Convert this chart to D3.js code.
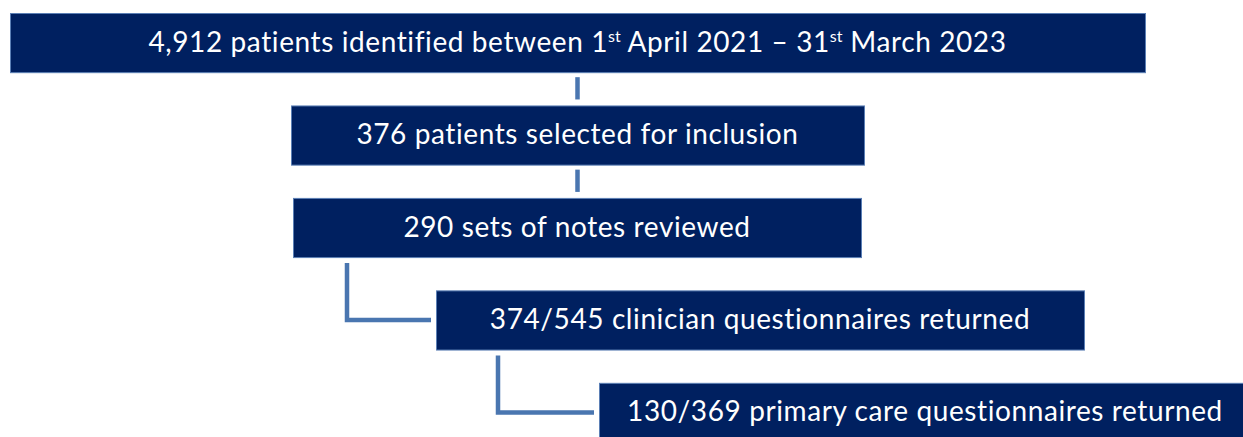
<!DOCTYPE html>
<html>
<head>
<meta charset="utf-8">
<script src="https://cdn.jsdelivr.net/npm/d3@7"></script>
<style>
  body { margin: 0; background: #fff; }
  svg { display: block; }
  .box { fill: #002060; stroke: #5b7fb5; stroke-width: 1; }
  .label { fill: #fff; font-family: Lato, "Open Sans", sans-serif; font-size: 28px; letter-spacing: 0.6px; }
  .link { fill: none; stroke: #4a76b0; stroke-width: 4.5; }
</style>
</head>
<body>
<div id="vis"></div>
<script>
// steps of the flow, top to bottom
const STEPS = [0, 1, 2, 3, 4];
const COUNTS = ["4,912", "376", "290", "374/545", "130/369"];
// label parts: [text, isSuperscript]
const LABELS = [
  [["4,912 patients identified between 1", false], ["st", true], [" April 2021 \u2013 31", false], ["st", true], [" March 2023", false]],
  [["376 patients selected for inclusion", false]],
  [["290 sets of notes reviewed", false]],
  [["374/545 clinician questionnaires returned", false]],
  [["130/369 primary care questionnaires returned", false]]
];
// link type from step i to i+1
const LINKS = ["straight", "straight", "elbow", "elbow"];

const FRAME_WIDTH = 1243;
const FRAME_HEIGHT = 437;

// box left/right edges (layout, not data)
const BOX_X = [[10, 1145], [291, 864], [293, 861], [436, 1084], [599, 1251]];

const FRAME = d3.select("#vis")
  .append("svg")
  .attr("width", FRAME_WIDTH)
  .attr("height", FRAME_HEIGHT);

// rows
const Y_SCALE = d3.scaleBand()
  .domain(STEPS)
  .range([13, 442])
  .paddingInner(0.36)
  .paddingOuter(0);

const X_SCALE = d3.scaleLinear().domain([0, FRAME_WIDTH]).range([0, FRAME_WIDTH]);

const H = Y_SCALE.bandwidth();

// connectors first so boxes sit on top
const GAP = 6;
FRAME.selectAll(".link")
  .data(LINKS)
  .enter()
  .append("path")
  .attr("class", "link")
  .attr("d", (d, i) => {
    let y0 = Y_SCALE(i) + H + GAP;
    let y1 = Y_SCALE(i + 1);
    if (d === "straight") {
      let cx = X_SCALE((BOX_X[i][0] + BOX_X[i][1]) / 2);
      return "M" + cx + "," + (Y_SCALE(i) + H + 5) + "V" + (y1 - 6);
    }
    // elbow: down from near left of box i, then right into box i+1
    let x0 = X_SCALE(BOX_X[i][0]) + (i === 2 ? 54 : 62);
    let ym = y1 + H / 2;
    return "M" + x0 + "," + y0 + "V" + ym + "H" + (X_SCALE(BOX_X[i + 1][0]) - 5);
  });

// boxes
FRAME.selectAll(".box")
  .data(STEPS)
  .enter()
  .append("rect")
  .attr("class", "box")
  .attr("x", (d) => X_SCALE(BOX_X[d][0]) + 0.5)
  .attr("y", (d) => Y_SCALE(d) + 0.5)
  .attr("width", (d) => X_SCALE(BOX_X[d][1]) - X_SCALE(BOX_X[d][0]))
  .attr("height", H);

// labels
const TEXT = FRAME.selectAll(".label")
  .data(STEPS)
  .enter()
  .append("text")
  .attr("class", "label")
  .attr("text-anchor", "middle")
  .attr("x", (d) => X_SCALE((BOX_X[d][0] + BOX_X[d][1]) / 2))
  .attr("y", (d) => Y_SCALE(d) + H / 2 + 9);

TEXT.each(function(d) {
  let t = d3.select(this);
  LABELS[d].forEach((p) => {
    let span = t.append("tspan").text(p[0]);
    if (p[1]) {
      span.attr("font-size", "16px").attr("dy", "-10").attr("letter-spacing", "0");
    } else if (t.selectAll("tspan").size() > 1) {
      span.attr("dy", "10");
    }
  });
});
</script>
</body>
</html>
